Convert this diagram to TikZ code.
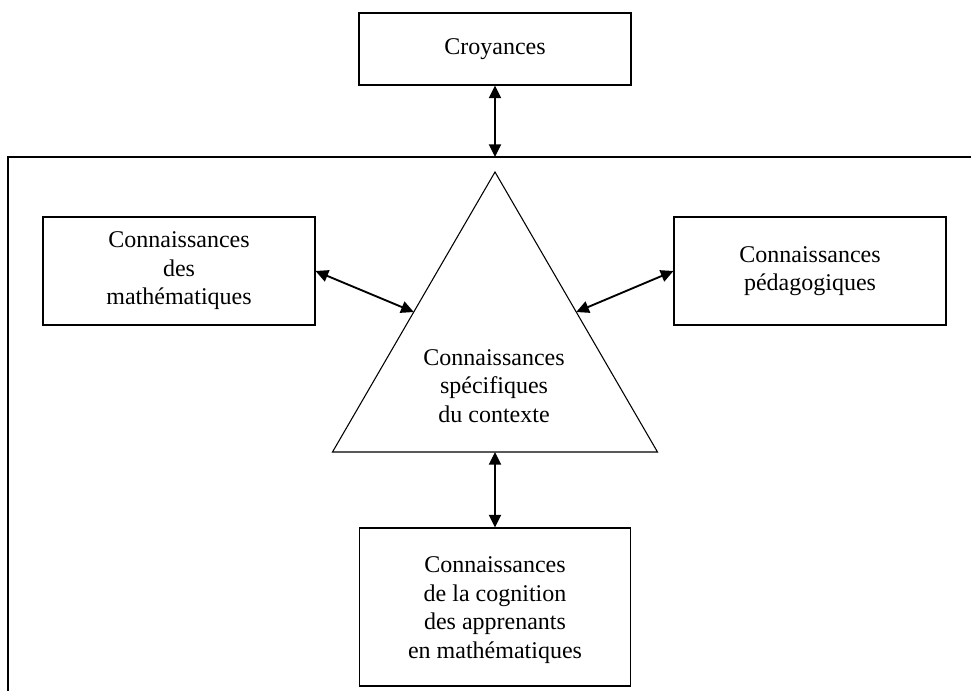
\documentclass[tikz,border=0pt]{standalone}
\usepackage{fontspec}
\setmainfont{Liberation Serif}
\usetikzlibrary{arrows.meta,calc}
\begin{document}
\begin{tikzpicture}[x=0.75pt,y=-0.75pt,
  txt/.style={align=center,inner sep=0pt,font=\fontsize{18}{21.4}\selectfont},
  box/.style={txt,draw,line width=0.8pt},
  link/.style={{Triangle[length=9.5pt,width=9pt]}-{Triangle[length=9.5pt,width=9pt]},line width=1.4pt},
  frameline/.style={line width=1pt},
  tri/.style={line width=0.8pt,line join=miter}]
\useasboundingbox (0,0) rectangle (971,690);
\clip (0,0) rectangle (971,690);
% outer frame (runs off the picture on the right and bottom)
\draw[frameline] (8,700) -- (8,157) -- (980,157);
\coordinate (ftop) at (495,157);
% triangle
\coordinate (apex) at (495,172);
\coordinate (bl) at (332.5,452);
\coordinate (br) at (657.5,452);
\draw[tri] (apex) -- (bl) -- (br) -- cycle;
\coordinate (tl) at ($(apex)!0.5!(bl)$);
\coordinate (tr) at ($(apex)!0.5!(br)$);
\coordinate (tb) at ($(bl)!0.5!(br)$);
\node[txt] (ctx) at (494,386) {Connaissances\\spécifiques\\du contexte};
% boxes
\node[box,minimum width=204pt,minimum height=54pt] (croy) at (495,49) {Croyances};
\node[box,minimum width=204pt,minimum height=81pt] (math) at (179,271) {Connaissances\\des\\mathématiques};
\node[box,minimum width=204pt,minimum height=81pt] (peda) at (810,271) {Connaissances\\pédagogiques};
\node[box,minimum width=203.5pt,minimum height=118.5pt] (cogn) at (495,607) {};
\node[txt] (cognt) at (495,610) {Connaissances\\de la cognition\\des apprenants\\en mathématiques};
% connectors
\draw[link] (croy.south) -- (ftop);
\draw[link] (math.east) -- (tl);
\draw[link] (tr) -- (peda.west);
\draw[link] (tb) -- (cogn.north);
\end{tikzpicture}
\end{document}
